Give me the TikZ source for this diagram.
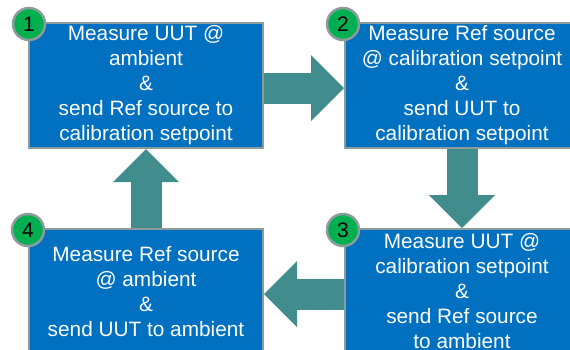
\documentclass[tikz,border=0pt]{standalone}
\usepackage{fontspec}
\setmainfont{Liberation Sans}
\usetikzlibrary{arrows.meta,backgrounds}
\definecolor{boxblue}{HTML}{0070C0}
\definecolor{boxedge}{HTML}{8C9C9C}
\definecolor{arrowteal}{HTML}{418D8D}
\definecolor{numgreen}{HTML}{00B050}
\tikzset{
  stepbox/.style={draw=boxedge, line width=2pt, fill=boxblue, text=white,
    minimum width=234pt, minimum height=125pt, inner sep=0pt, align=center,
    font=\fontsize{20.8}{25}\selectfont, anchor=north west},
  numbadge/.style={circle, draw=boxedge, line width=2.5pt, fill=numgreen,
    minimum size=32pt, inner sep=0pt, font=\fontsize{21}{21}\selectfont, text=black},
  flowarrow/.style={draw=arrowteal, line width=31pt,
    -{Triangle[length=33pt,width=66pt,line width=0pt]}}
}
\begin{document}
\begin{tikzpicture}[x=1pt,y=-1pt]
\useasboundingbox (0,0) rectangle (570,349);
\clip (0,0) rectangle (570,349);
\node[stepbox] (b1) at (28,22) {Measure UUT @\\ambient\\\&\\send Ref source to\\calibration setpoint};
\node[stepbox] (b2) at (344,22) {Measure Ref source\\@ calibration setpoint\\\&\\send UUT to\\calibration setpoint};
\node[stepbox] (b3) at (344,228) {Measure UUT @\\calibration setpoint\\\&\\send Ref source\\to ambient};
\node[stepbox] (b4) at (28,228) {Measure Ref source\\@ ambient\\\&\\send UUT to ambient};
\node[numbadge, xshift=1pt, yshift=-2pt] (n1) at (b1.north west) {1};
\node[numbadge, xshift=-1pt, yshift=-2pt] (n2) at (b2.north west) {2};
\node[numbadge, xshift=-1pt, yshift=-2pt] (n3) at (b3.north west) {3};
\node[numbadge, xshift=0pt, yshift=-2pt] (n4) at (b4.north west) {4};
\begin{scope}[on background layer]
  \fill[white] (0,0) rectangle (570,349);
  \draw[flowarrow] (b1.east |- 0,88) -- (b2.west |- 0,88);
  \draw[flowarrow] (b2.south) -- (b3.north);
  \draw[flowarrow] (b3.west |- 0,294) -- (b4.east |- 0,294);
  \draw[flowarrow] (b4.north) -- (b1.south);
\end{scope}
\end{tikzpicture}
\end{document}
